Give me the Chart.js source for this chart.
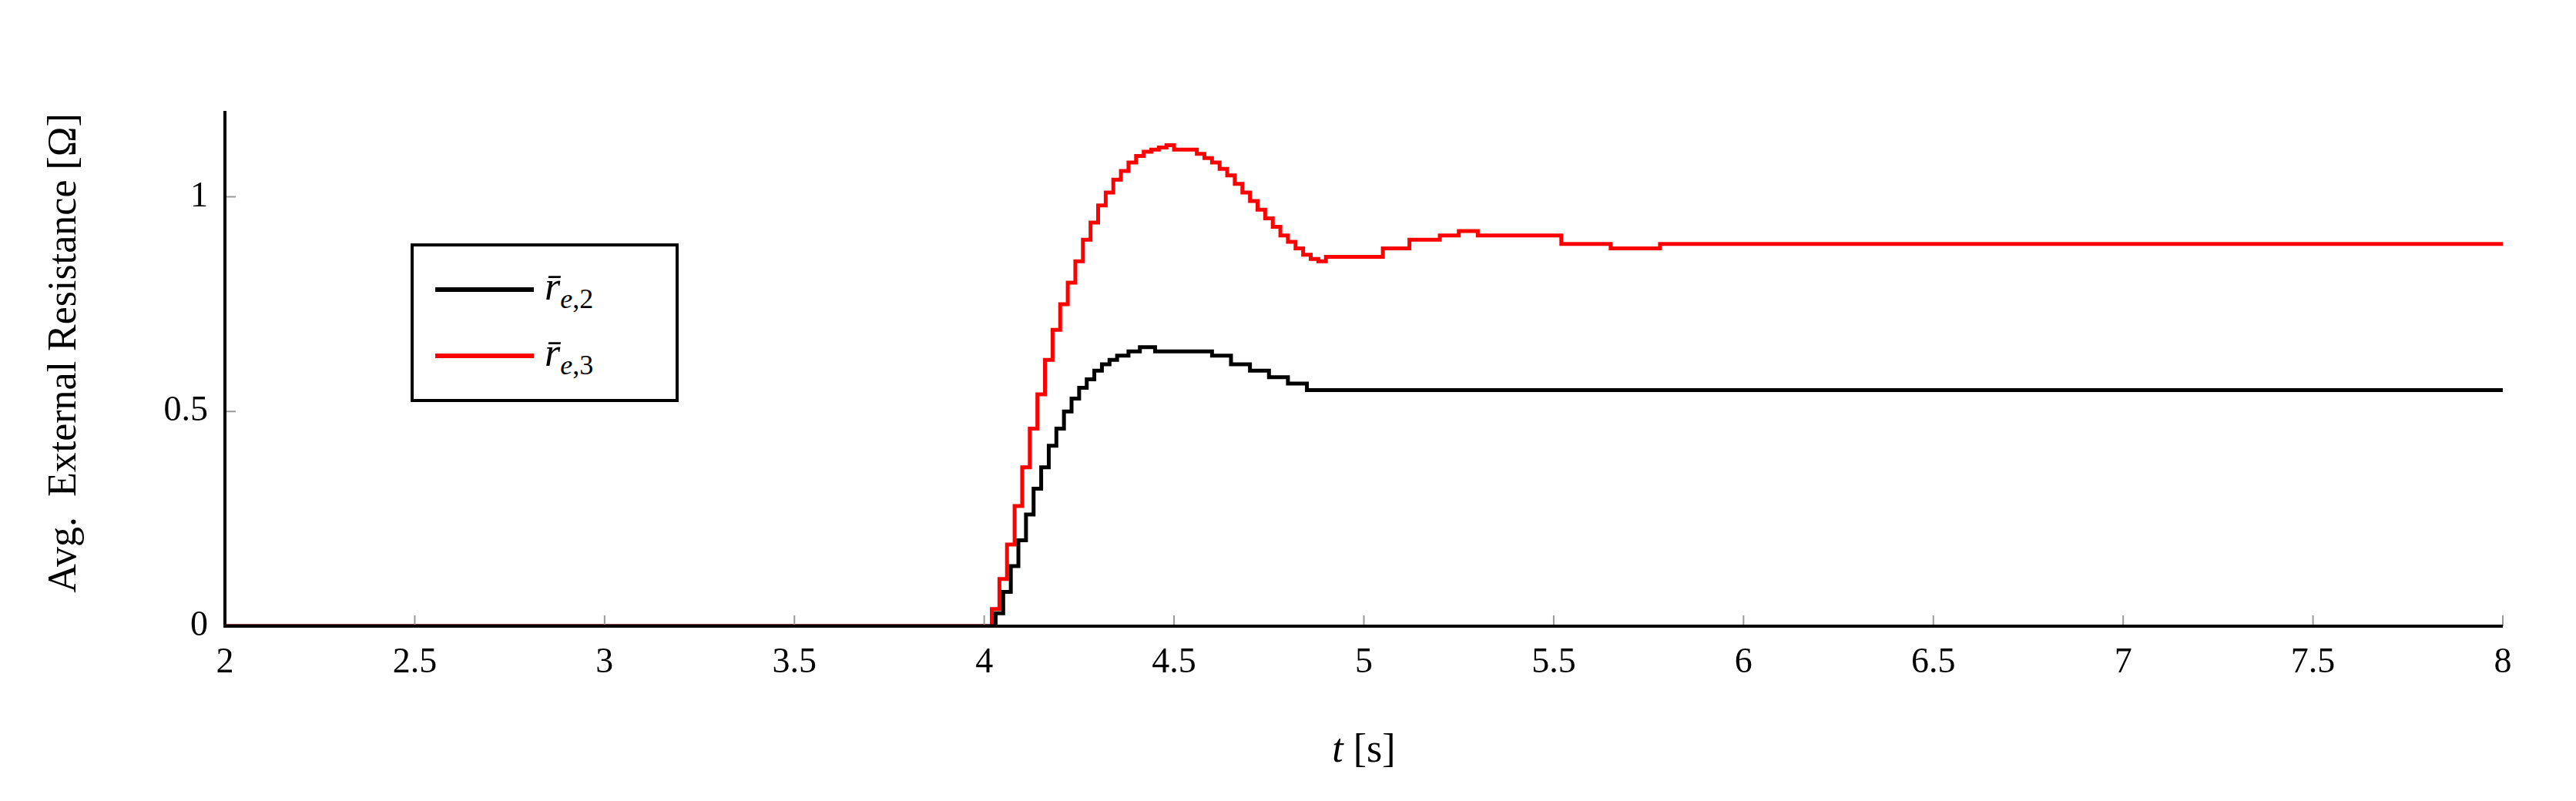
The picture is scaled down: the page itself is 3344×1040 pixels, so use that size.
<!DOCTYPE html>
<html><head><meta charset="utf-8">
<script src="https://cdn.jsdelivr.net/npm/chart.js@4/dist/chart.umd.min.js"></script>
<style>
html,body{margin:0;padding:0;background:#fff;}
#wrap{position:relative;width:3344px;height:1040px;}
#legend{position:absolute;left:533px;top:316px;width:348px;height:206px;border:4px solid #000;background:#fff;font-family:"Liberation Serif",serif;font-size:52px;box-sizing:border-box;}
.row{position:absolute;left:28px;display:flex;align-items:center;}
.sw{width:128px;height:6px;margin-right:14px;}
sub{font-size:36px;}
</style></head><body>
<div id="wrap"><canvas id="c" width="3344" height="1040"></canvas>
<div id="legend">
<div class="row" style="top:22px"><div class="sw" style="background:#000"></div><span><i>r̄</i><sub><i>e</i>,2</sub></span></div>
<div class="row" style="top:108px"><div class="sw" style="background:#f00"></div><span><i>r̄</i><sub><i>e</i>,3</sub></span></div>
</div></div>
<script>
const blackT=[2,4.03,4.05,4.07,4.09,4.11,4.13,4.15,4.17,4.19,4.21,4.23,4.25,4.27,4.29,4.31,4.33,4.35,4.38,4.41,4.45,4.6,4.65,4.7,4.75,4.8,4.85,4.93,8];
const blackV=[0,0,0.03,0.08,0.14,0.20,0.26,0.32,0.37,0.42,0.46,0.50,0.53,0.555,0.575,0.595,0.61,0.62,0.63,0.64,0.65,0.64,0.63,0.61,0.595,0.58,0.565,0.55,0.55];
const redT=[2,4.02,4.04,4.06,4.08,4.10,4.12,4.14,4.16,4.18,4.20,4.22,4.24,4.26,4.28,4.30,4.32,4.34,4.36,4.38,4.40,4.42,4.44,4.46,4.48,4.50,4.56,4.58,4.60,4.62,4.64,4.66,4.68,4.70,4.72,4.74,4.76,4.78,4.80,4.82,4.84,4.86,4.88,4.90,5.05,5.12,5.2,5.25,5.3,5.52,5.65,5.78,6.05,8];
const redV=[0,0,0.04,0.11,0.19,0.28,0.37,0.46,0.54,0.62,0.69,0.75,0.80,0.85,0.90,0.94,0.98,1.01,1.04,1.06,1.08,1.095,1.105,1.11,1.115,1.12,1.11,1.10,1.09,1.08,1.065,1.05,1.03,1.01,0.99,0.97,0.95,0.93,0.91,0.895,0.88,0.865,0.855,0.85,0.86,0.88,0.90,0.91,0.92,0.91,0.89,0.88,0.89,0.89];
const xTicks=[2,2.5,3,3.5,4,4.5,5,5.5,6,6.5,7,7.5,8];
const yTicks=[0,0.5,1];
const pts=(t,v)=>t.map((x,i)=>({x,y:v[i]}));
const F='"Liberation Serif", serif';
const deco={id:'deco',afterDraw(ch){
 const c=ch.ctx,a=ch.chartArea,x=ch.scales.x,y=ch.scales.y;
 c.save();
 c.strokeStyle='#999';c.lineWidth=2;
 xTicks.forEach(t=>{const p=x.getPixelForValue(t);c.beginPath();c.moveTo(p,a.bottom);c.lineTo(p,a.bottom-14);c.stroke();});
 yTicks.forEach(t=>{const p=y.getPixelForValue(t);c.beginPath();c.moveTo(a.left,p);c.lineTo(a.left+14,p);c.stroke();});
 c.strokeStyle='#000';c.lineWidth=4;c.beginPath();c.moveTo(a.left,a.top);c.lineTo(a.left,a.bottom);c.lineTo(a.right,a.bottom);c.stroke();
 c.fillStyle='#000';c.textBaseline='middle';
 c.font='italic 52px '+F;const w1=c.measureText('t').width;
 c.font='52px '+F;const w2=c.measureText(' [s]').width;
 let sx=(a.left+a.right)/2-(w1+w2)/2;
 c.textAlign='left';c.font='italic 52px '+F;c.fillText('t',sx,975);
 c.font='52px '+F;c.fillText(' [s]',sx+w1,975);
 c.translate(84,(a.top+a.bottom)/2-20);c.rotate(-Math.PI/2);c.textAlign='center';
 c.fillText('Avg.  External Resistance [Ω]',0,0);
 c.restore();}};
new Chart(document.getElementById('c'),{type:'line',
 data:{datasets:[
  {data:pts(blackT,blackV),borderColor:'#000',borderWidth:5,stepped:'after',pointRadius:0,fill:false},
  {data:pts(redT,redV),borderColor:'#f00',borderWidth:5,stepped:'after',pointRadius:0,fill:false}]},
 options:{responsive:false,animation:false,layout:{padding:{top:144,right:95,left:0,bottom:0}},
  plugins:{legend:{display:false},tooltip:{enabled:false}},
  scales:{
   x:{type:'linear',min:2,max:8,afterFit(s){s.height=227;},afterBuildTicks(s){s.ticks=xTicks.map(v=>({value:v}));},
      grid:{display:false},border:{display:false},ticks:{color:'#000',font:{family:F,size:46},padding:12,maxRotation:0,callback:v=>String(v)}},
   y:{min:0,max:1.2,afterFit(s){s.width=292;},afterBuildTicks(s){s.ticks=yTicks.map(v=>({value:v}));},
      grid:{display:false},border:{display:false},ticks:{color:'#000',font:{family:F,size:46},padding:14,callback:v=>String(v)}}}},
 plugins:[deco]});
</script></body></html>
